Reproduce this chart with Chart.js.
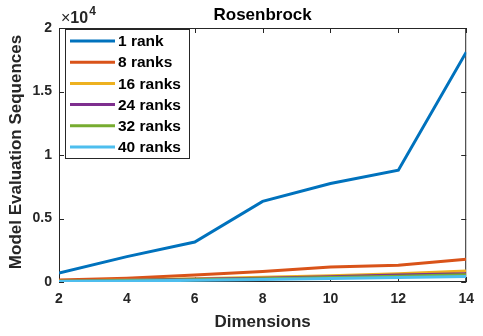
<!DOCTYPE html>
<html>
<head>
<meta charset="utf-8">
<script src="https://cdn.jsdelivr.net/npm/chart.js@4/dist/chart.umd.min.js"></script>
<style>
  html, body { margin: 0; padding: 0; background: #ffffff; }
  #wrap { width: 483px; height: 336px; position: relative; }
</style>
</head>
<body>
<div id="wrap"><canvas id="chart" width="483" height="336"></canvas></div>
<script>
// Model evaluation sequences for the Rosenbrock problem, by dimension and rank count
const dimensions = [2, 4, 6, 8, 10, 12, 14];
const rank1  = [700, 2000, 3150, 6350, 7750, 8800, 18100];
const rank8  = [150, 300, 550, 820, 1180, 1310, 1790];
const rank16 = [80, 160, 260, 370, 500, 640, 870];
const rank24 = [60, 130, 210, 300, 420, 560, 650];
const rank32 = [50, 110, 180, 260, 360, 460, 580];
const rank40 = [40, 80, 130, 200, 280, 350, 440];
const seriesLabels = ['1 rank', '8 ranks', '16 ranks', '24 ranks', '32 ranks', '40 ranks'];
const yTicks = [0, 5000, 10000, 15000, 20000];

const colors = ['#0072BD', '#D95319', '#EDB120', '#7E2F8E', '#77AC30', '#4DBEEE'];
const FONT = "'Liberation Sans', Arial, Helvetica, sans-serif";
const INK = '#262626';

const allSeries = [rank1, rank8, rank16, rank24, rank32, rank40];
const datasets = allSeries.map((vals, i) => ({
  label: seriesLabels[i],
  data: vals.map((v, k) => ({ x: dimensions[k], y: v })),
  borderColor: colors[i],
  backgroundColor: colors[i],
  borderWidth: 3,
  pointRadius: 0,
  tension: 0,
  fill: false,
  order: allSeries.length - i   // later series drawn on top
}));

// Box, inward ticks, titles and the exponent label
const frame = {
  id: 'frame',
  beforeDatasetsDraw(chart) {
    const { ctx, chartArea: a, scales } = chart;
    ctx.save();
    ctx.strokeStyle = INK;
    ctx.lineWidth = 1;
    ctx.strokeRect(a.left + 0.5, a.top + 0.5, a.right - a.left - 1, a.bottom - a.top - 1);
    const tl = 5;
    ctx.beginPath();
    dimensions.forEach(d => {
      const x = Math.round(scales.x.getPixelForValue(d)) + 0.5;
      ctx.moveTo(x, a.bottom); ctx.lineTo(x, a.bottom - tl);
      ctx.moveTo(x, a.top); ctx.lineTo(x, a.top + tl);
    });
    yTicks.forEach(v => {
      const y = Math.round(scales.y.getPixelForValue(v)) + 0.5;
      ctx.moveTo(a.left, y); ctx.lineTo(a.left + tl, y);
      ctx.moveTo(a.right, y); ctx.lineTo(a.right - tl, y);
    });
    ctx.stroke();
    ctx.restore();
  },
  afterDraw(chart) {
    const { ctx, chartArea: a } = chart;
    const cx = (a.left + a.right) / 2;
    ctx.save();
    ctx.fillStyle = '#000000';
    ctx.textAlign = 'center';
    ctx.textBaseline = 'alphabetic';
    ctx.font = 'bold 17px ' + FONT;
    ctx.fillText('Rosenbrock', cx, 20);
    ctx.fillStyle = INK;
    ctx.fillText('Dimensions', cx, 327);
    ctx.save();
    ctx.translate(21, (a.top + a.bottom) / 2 - 3);
    ctx.rotate(-Math.PI / 2);
    ctx.fillText('Model Evaluation Sequences', 0, 0);
    ctx.restore();
    // exponent multiplier
    ctx.textAlign = 'left';
    ctx.font = '16px ' + FONT;
    ctx.fillText('\u00d7', 61, 23);
    const wx = ctx.measureText('\u00d7').width;
    ctx.font = 'bold 16px ' + FONT;
    ctx.fillText('10', 61 + wx, 23);
    const w = wx + ctx.measureText('10').width;
    ctx.font = 'bold 12px ' + FONT;
    ctx.fillText('4', 61 + w + 1, 15);
    ctx.restore();
  }
};

// Legend in the upper-left corner of the plot
const boxLegend = {
  id: 'boxLegend',
  afterDatasetsDraw(chart) {
    const { ctx } = chart;
    const x0 = 65, y0 = 29, w = 124, h = 129;
    ctx.save();
    ctx.fillStyle = '#ffffff';
    ctx.fillRect(x0, y0, w, h);
    ctx.strokeStyle = INK;
    ctx.lineWidth = 1;
    ctx.strokeRect(x0 + 0.5, y0 + 0.5, w, h);
    ctx.font = 'bold 15.5px ' + FONT;
    ctx.textBaseline = 'middle';
    ctx.textAlign = 'left';
    chart.data.datasets.forEach((ds, i) => {
      const y = 41 + i * 21.2;
      ctx.strokeStyle = ds.borderColor;
      ctx.lineWidth = 3;
      ctx.beginPath();
      ctx.moveTo(70, y); ctx.lineTo(115, y);
      ctx.stroke();
      ctx.fillStyle = '#000000';
      ctx.fillText(ds.label, 118, y + 1);
    });
    ctx.restore();
  }
};

new Chart(document.getElementById('chart'), {
  type: 'line',
  data: { datasets },
  plugins: [frame, boxLegend],
  options: {
    responsive: false,
    animation: false,
    layout: { padding: { top: 28, right: 7, left: 0, bottom: 0 } },
    plugins: { legend: { display: false }, tooltip: { enabled: false }, title: { display: false } },
    scales: {
      x: {
        type: 'linear',
        min: 2, max: 14,
        afterFit(s) { s.height = 54; },
        afterBuildTicks(s) { s.ticks = dimensions.map(v => ({ value: v })); },
        grid: { display: false, drawTicks: false },
        border: { display: false },
        ticks: { padding: 9, color: INK, font: { family: FONT, size: 14, weight: 'bold' }, maxRotation: 0 }
      },
      y: {
        type: 'linear',
        min: 0, max: 20000,
        afterFit(s) { s.width = 59; },
        afterBuildTicks(s) { s.ticks = yTicks.map(v => ({ value: v })); },
        grid: { display: false, drawTicks: false },
        border: { display: false },
        ticks: {
          padding: 7, color: INK,
          font: { family: FONT, size: 14, weight: 'bold' },
          callback: v => String(v / 10000)
        }
      }
    }
  }
});
</script>
</body>
</html>
